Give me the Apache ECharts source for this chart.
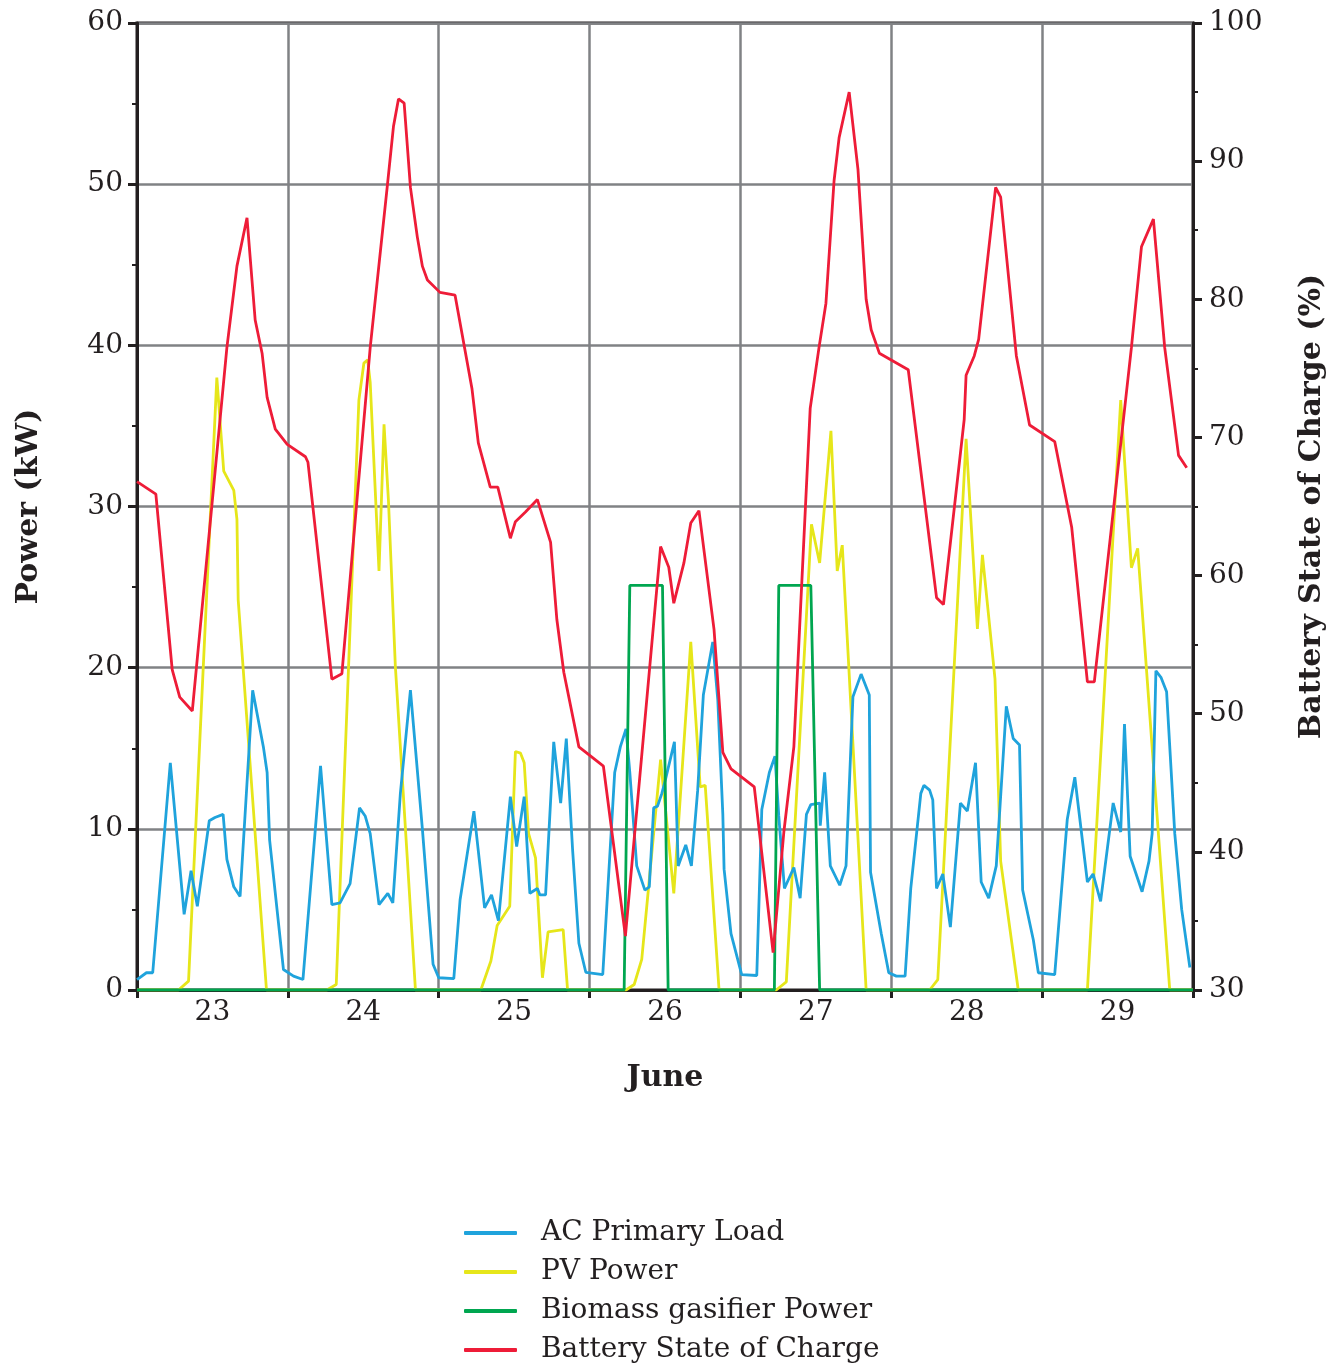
<!DOCTYPE html>
<html>
<head>
<meta charset="utf-8">
<script src="https://cdn.jsdelivr.net/npm/echarts@6/dist/echarts.min.js"></script>
<style>
  html, body { margin: 0; padding: 0; background: #ffffff; }
  #chart { width: 1344px; height: 1365px; }
</style>
</head>
<body>
<div id="chart"></div>
<script>
// ---- Data (hours from 23 June 00:00) ----
const dayLabels = ['23', '24', '25', '26', '27', '28', '29'];
const leftTicks = [0, 10, 20, 30, 40, 50, 60];
const rightTicks = [30, 40, 50, 60, 70, 80, 90, 100];

const loadHours = [0, 1.5, 2.5, 5.3, 7.5, 8.6, 9.6, 11.5, 12.4, 13.7, 14.3, 15.4, 16.4, 18.4, 20.1, 20.7, 21.1, 23.3, 24.9, 26.4,
  29.2, 31.0, 32.3, 33.9, 35.4, 36.3, 37.1, 38.5, 39.9, 40.7, 41.9, 43.5, 45.4, 47.1, 48.0, 50.4, 51.4, 53.6, 55.3, 56.4,
  57.5, 59.4, 60.4, 61.6, 62.5, 63.7, 64.1, 65.0, 66.3, 67.4, 68.3, 69.3, 70.3, 71.4, 74.1, 76.0, 76.9, 77.8, 78.4, 79.5,
  80.8, 81.5, 82.2, 82.8, 83.5, 84.1, 85.5, 86.1, 87.3, 88.2, 89.2, 90.1, 91.6, 92.4, 93.2, 93.4, 94.5, 96.2, 98.6, 99.4,
  100.6, 101.5, 102.1, 103.0, 104.5, 105.5, 106.5, 107.2, 108.6, 108.7, 109.4, 110.3, 111.8, 112.8, 113.9, 115.2, 116.5, 116.7, 118.4, 119.6,
  120.8, 122.2, 123.1, 124.7, 125.2, 126.1, 126.6, 127.2, 128.2, 129.4, 131.0, 132.1, 133.4, 134.3, 135.5, 136.7, 138.3, 139.4, 140.4, 140.9,
  142.6, 143.4, 146.0, 148.0, 149.2, 151.2, 152.1, 153.3, 155.3, 156.5, 157.1, 158.0, 159.9, 161.0, 161.5, 162.1, 162.9, 163.8, 165.1, 166.2, 167.5];
const loadKW = [0.65, 1.07, 1.07, 14.1, 4.7, 7.4, 5.2, 10.5, 10.7, 10.9, 8.1, 6.4, 5.8, 18.6, 15.1, 13.5, 9.3, 1.27, 0.86, 0.65,
  13.9, 5.3, 5.4, 6.6, 11.3, 10.8, 9.7, 5.3, 6.0, 5.4, 12.2, 18.6, 10.0, 1.6, 0.76, 0.7, 5.6, 11.1, 5.1, 5.9,
  4.3, 12.0, 8.9, 12.0, 6.0, 6.3, 5.9, 5.9, 15.4, 11.6, 15.6, 8.7, 2.9, 1.1, 0.96, 13.5, 15.1, 16.2, 13.5, 7.7,
  6.2, 6.4, 11.3, 11.4, 12.2, 13.1, 15.4, 7.7, 9.0, 7.7, 12.4, 18.3, 21.6, 18.0, 10.9, 7.5, 3.5, 0.96, 0.9, 11.2,
  13.5, 14.5, 10.8, 6.3, 7.6, 5.7, 10.9, 11.5, 11.6, 10.2, 13.5, 7.7, 6.5, 7.7, 18.2, 19.6, 18.3, 7.3, 3.5, 1.07,
  0.86, 0.86, 6.3, 12.2, 12.7, 12.4, 11.8, 6.3, 7.2, 3.9, 11.6, 11.1, 14.1, 6.7, 5.7, 7.7, 17.6, 15.6, 15.2, 6.2,
  3.1, 1.07, 0.96, 10.6, 13.2, 6.7, 7.2, 5.5, 11.6, 9.8, 16.5, 8.3, 6.1, 8.0, 9.7, 19.8, 19.4, 18.5, 9.7, 5.0, 1.4];

const pvHours = [0, 6.6, 8.2, 12.7, 13.8, 15.4, 15.9, 16.1, 20.6, 30.2, 31.7, 35.3, 36.1, 36.7, 37.1, 38.5, 39.3, 40.0, 41.1, 44.3,
  54.7, 56.3, 57.3, 59.3, 60.2, 61.0, 61.6, 62.3, 63.4, 64.5, 65.4, 67.8, 68.5, 77.8, 79.1, 80.3, 81.2, 83.3, 85.4, 88.1,
  89.6, 90.4, 92.6, 101.7, 103.3, 107.3, 108.6, 110.4, 111.4, 112.2, 116.0, 126.1, 127.4, 131.9, 133.7, 134.5, 136.5, 137.4, 140.2, 151.2,
  156.5, 158.2, 159.2, 164.3, 168];
const pvKW = [0, 0, 0.55, 38.0, 32.2, 31.0, 29.2, 24.2, 0, 0, 0.34, 36.6, 38.9, 39.1, 37.7, 26.0, 35.1, 30.4, 20.1, 0,
  0, 1.8, 4.0, 5.2, 14.8, 14.7, 14.1, 9.7, 8.2, 0.76, 3.6, 3.75, 0, 0, 0.34, 1.9, 5.6, 14.3, 6.0, 21.6,
  12.6, 12.7, 0, 0, 0.5, 28.9, 26.5, 34.7, 26.0, 27.6, 0, 0, 0.65, 34.2, 22.4, 27.0, 19.3, 8.0, 0, 0,
  36.6, 26.2, 27.4, 0, 0];

const bioHours = [0, 77.5, 78.4, 83.6, 84.5, 101.4, 102.1, 107.2, 108.6, 168];
const bioKW = [0, 0, 25.1, 25.1, 0, 0, 25.1, 25.1, 0, 0];

const socHours = [0, 3.0, 5.6, 6.8, 8.8, 14.3, 15.9, 17.5, 18.8, 19.9, 20.7, 22.0, 23.9, 26.8, 27.2, 31.0, 32.6, 37.1, 39.8, 40.8,
  41.6, 42.5, 43.5, 44.6, 45.4, 46.2, 48.2, 50.6, 53.3, 54.3, 56.2, 57.4, 59.4, 60.2, 61.8, 63.7, 65.8, 66.8, 67.9, 70.3,
  74.2, 77.7, 83.3, 84.6, 85.4, 87.0, 88.1, 89.4, 91.8, 93.2, 94.5, 98.2, 101.2, 102.9, 104.5, 107.1, 108.5, 109.6, 110.9, 111.7,
  113.3, 114.7, 116.0, 116.8, 118.1, 122.7, 127.2, 128.3, 131.6, 131.9, 133.2, 133.9, 136.6, 137.4, 139.9, 142.0, 146.0, 148.7, 151.2, 152.3,
  158.2, 159.8, 161.7, 163.5, 165.7, 167.0];
const socPct = [66.8, 65.9, 53.2, 51.2, 50.2, 76.5, 82.4, 85.9, 78.5, 76.1, 72.9, 70.6, 69.5, 68.6, 68.2, 52.5, 52.9, 76.5, 88.1, 92.5,
  94.5, 94.2, 88.1, 84.5, 82.4, 81.4, 80.5, 80.3, 73.5, 69.6, 66.4, 66.4, 62.7, 63.9, 64.6, 65.5, 62.4, 56.8, 53.0, 47.6,
  46.2, 33.9, 62.1, 60.6, 58.0, 60.9, 63.8, 64.7, 56.1, 47.2, 46.0, 44.7, 32.7, 41.4, 47.6, 72.1, 76.5, 79.7, 88.6, 91.7,
  95.0, 89.4, 80.0, 77.8, 76.1, 74.9, 58.4, 57.9, 71.3, 74.5, 75.9, 77.1, 88.1, 87.4, 75.9, 70.9, 69.7, 63.5, 52.3, 52.3,
  76.5, 83.8, 85.8, 76.5, 68.7, 67.8];

const seriesNames = ['AC Primary Load', 'PV Power', 'Biomass gasifier Power', 'Battery State of Charge'];
const seriesColors = ['#1fa3dc', '#e6e61a', '#00a650', '#ee1c38'];

// ---- Build ----
const pairs = (xs, ys) => xs.map((x, i) => [x, ys[i]]);
const FONT = 'DejaVu Serif';
const INK = '#231f20';
const GRIDC = '#808285';

const chart = echarts.init(document.getElementById('chart'), null, { renderer: 'canvas' });

const lineSeries = (idx, data, yIdx, z) => ({
  name: seriesNames[idx],
  type: 'line',
  xAxisIndex: 1,
  yAxisIndex: yIdx,
  data: data,
  symbol: 'none',
  smooth: false,
  z: z,
  lineStyle: { color: seriesColors[idx], width: 2.8 },
  itemStyle: { color: seriesColors[idx] },
  animation: false
});

chart.setOption({
  animation: false,
  backgroundColor: '#ffffff',
  textStyle: { fontFamily: FONT, color: INK },
  grid: { left: 137, right: 151, top: 23, bottom: 375, show: true, borderColor: INK, borderWidth: 3, backgroundColor: 'transparent' },
  legend: {
    orient: 'vertical',
    left: 464,
    top: 1218,
    height: 200,
    padding: 0,
    itemWidth: 53,
    itemHeight: 4,
    itemGap: 9,
    icon: 'roundRect',
    data: seriesNames,
    textStyle: { fontFamily: FONT, fontSize: 28, color: INK, lineHeight: 30, padding: [0, 0, 0, 19] }
  },
  xAxis: [
    {
      type: 'category',
      data: dayLabels,
      boundaryGap: true,
      position: 'bottom',
      axisLine: { show: true, lineStyle: { color: INK, width: 3 } },
      axisTick: { show: true, inside: false, length: 8, lineStyle: { color: INK, width: 3 } },
      axisLabel: { fontFamily: FONT, fontSize: 28, color: INK, margin: 9 },
      splitLine: { show: true, lineStyle: { color: GRIDC, width: 2.5 } },
      name: 'June',
      nameLocation: 'middle',
      nameGap: 73,
      nameTextStyle: { fontFamily: FONT, fontSize: 30, fontWeight: 'bold', color: INK }
    },
    { type: 'value', min: 0, max: 168, show: false }
  ],
  yAxis: [
    {
      type: 'value',
      position: 'left',
      min: leftTicks[0],
      max: leftTicks[leftTicks.length - 1],
      interval: 10,
      axisLine: { show: true, lineStyle: { color: INK, width: 3 } },
      axisTick: { show: true, inside: false, length: 9, lineStyle: { color: INK, width: 3 } },
      minorTick: { show: true, splitNumber: 2, length: 5, lineStyle: { color: INK, width: 2 } },
      axisLabel: { fontFamily: FONT, fontSize: 28, color: INK, margin: 14 },
      splitLine: { show: true, lineStyle: { color: GRIDC, width: 2.5 } },
      name: 'Power (kW)',
      nameLocation: 'middle',
      nameRotate: 90,
      nameGap: 93,
      nameTextStyle: { fontFamily: FONT, fontSize: 30, fontWeight: 'bold', color: INK }
    },
    {
      type: 'value',
      position: 'right',
      min: rightTicks[0],
      max: rightTicks[rightTicks.length - 1],
      interval: 10,
      axisLine: { show: true, lineStyle: { color: INK, width: 3 } },
      axisTick: { show: true, inside: false, length: 9, lineStyle: { color: INK, width: 3 } },
      minorTick: { show: true, splitNumber: 2, length: 5, lineStyle: { color: INK, width: 2 } },
      axisLabel: { fontFamily: FONT, fontSize: 28, color: INK, margin: 16 },
      splitLine: { show: false },
      name: 'Battery State of Charge (%)',
      nameLocation: 'middle',
      nameRotate: 90,
      nameGap: 104,
      nameTextStyle: { fontFamily: FONT, fontSize: 30, fontWeight: 'bold', color: INK }
    }
  ],
  series: [
    lineSeries(0, pairs(loadHours, loadKW), 0, 3),
    lineSeries(1, pairs(pvHours, pvKW), 0, 2),
    lineSeries(2, pairs(bioHours, bioKW), 0, 4),
    lineSeries(3, pairs(socHours, socPct), 1, 5)
  ]
});
</script>
</body>
</html>
